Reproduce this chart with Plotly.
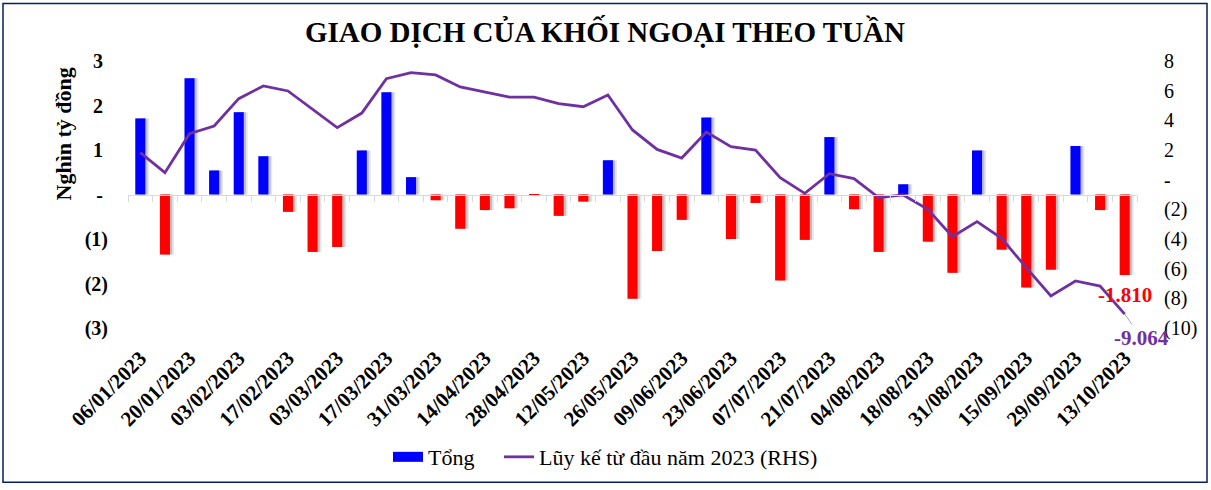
import plotly.graph_objects as go

# ---------------- data ----------------
dates = [
    "06/01/2023", "13/01/2023", "20/01/2023", "27/01/2023", "03/02/2023", "10/02/2023",
    "17/02/2023", "24/02/2023", "03/03/2023", "10/03/2023", "17/03/2023", "24/03/2023",
    "31/03/2023", "07/04/2023", "14/04/2023", "21/04/2023", "28/04/2023", "05/05/2023",
    "12/05/2023", "19/05/2023", "26/05/2023", "02/06/2023", "09/06/2023", "16/06/2023",
    "23/06/2023", "30/06/2023", "07/07/2023", "14/07/2023", "21/07/2023", "28/07/2023",
    "04/08/2023", "11/08/2023", "18/08/2023", "25/08/2023", "31/08/2023", "08/09/2023",
    "15/09/2023", "22/09/2023", "29/09/2023", "06/10/2023", "13/10/2023",
]

weekly = [
    1.71, -1.35, 2.61, 0.54, 1.85, 0.86, -0.39, -1.29, -1.18, 0.99, 2.30, 0.39,
    -0.13, -0.77, -0.35, -0.31, -0.02, -0.48, -0.16, 0.77, -2.34, -1.27, -0.57, 1.73,
    -1.00, -0.19, -1.93, -1.02, 1.29, -0.33, -1.29, 0.23, -1.06, -1.76, 0.99, -1.24,
    -2.09, -1.69, 1.09, -0.35, -1.81,
]

cumulative = [
    1.82, 0.47, 3.10, 3.62, 5.46, 6.32, 5.98, 4.74, 3.51, 4.49, 6.81, 7.22,
    7.06, 6.25, 5.91, 5.57, 5.57, 5.12, 4.92, 5.71, 3.35, 2.04, 1.46, 3.21,
    2.22, 2.00, 0.13, -0.92, 0.40, 0.07, -1.21, -1.03, -2.00, -3.84, -2.83, -3.96,
    -5.93, -7.84, -6.83, -7.17, -9.064,
]

left_vals = [-3, -2, -1, 0, 1, 2, 3]
left_text = ["(3)", "(2)", "(1)", "-\u00a0", "1\u00a0", "2\u00a0", "3\u00a0"]
right_vals = [-10, -8, -6, -4, -2, 0, 2, 4, 6, 8]
right_text = ["(10)", "(8)", "(6)", "(4)", "(2)", "-", "2", "4", "6", "8"]

title_text = "GIAO DỊCH CỦA KHỐI NGOẠI THEO TUẦN"
yaxis_title = "Nghìn tỷ đồng"
bar_name = "Tổng"
line_name = "Lũy kế từ đầu năm 2023 (RHS)"

# ---------------- style ----------------
FONT = "Liberation Serif, Times New Roman, serif"
BLUE = "#0000FF"
RED = "#FF0000"
PURPLE = "#7030A0"
AXIS_GRAY = "#D9D9D9"
BORDER = "#002060"
BAR_W = 0.41

W, H = 1211, 490
ML, MR, MT, MB = 128, 74, 61, 160
PW = W - ML - MR
PH = H - MT - MB


def px_x(px):
    return (px - ML) / PW


def px_y(py):
    return (H - MB - py) / PH


bar_colors = [BLUE if v >= 0 else RED for v in weekly]
n = len(dates)
tick_dates = dates[::2]
boundaries = [i - 0.5 for i in range(n + 1)]

fig = go.Figure()

# soft drop shadow behind bars
for off, alpha in [(0.16, 0.10), (0.09, 0.16)]:
    fig.add_trace(go.Bar(
        x=dates, y=weekly, width=BAR_W, offset=-BAR_W / 2 + off,
        marker=dict(color=f"rgba(0,0,0,{alpha})", line=dict(width=0)),
        showlegend=False, hoverinfo="skip",
    ))

fig.add_trace(go.Bar(
    x=dates, y=weekly, width=BAR_W, offset=-BAR_W / 2,
    marker=dict(color=bar_colors, line=dict(width=0)),
    name=bar_name, showlegend=False,
))

# legend entry for the bars (wide rectangle swatch like the reference)
fig.add_trace(go.Scatter(
    x=[None], y=[None], mode="lines", line=dict(color=BLUE, width=10),
    name=bar_name, hoverinfo="skip", legend="legend",
))

fig.add_trace(go.Scatter(
    x=dates, y=cumulative, yaxis="y2", mode="lines",
    line=dict(color=PURPLE, width=2.8),
    name=line_name, legend="legend2",
))

# helper (invisible) trace so the zero-axis with tick marks is rendered
fig.add_trace(go.Scatter(
    x=[boundaries[0]], y=[0], xaxis="x2", yaxis="y", mode="markers",
    marker=dict(opacity=0), showlegend=False, hoverinfo="skip",
))

legend_common = dict(
    orientation="h", xanchor="left", yanchor="middle", y=px_y(460),
    font=dict(family=FONT, size=22, color="black"),
    bgcolor="rgba(0,0,0,0)",
)

fig.update_layout(
    width=W, height=H,
    margin=dict(l=ML, r=MR, t=MT, b=MB),
    paper_bgcolor="white", plot_bgcolor="white",
    barmode="overlay",
    font=dict(family=FONT, color="black"),
    title=dict(
        text=title_text, x=605 / W, xanchor="center", y=1 - 32 / H, yanchor="middle",
        font=dict(family=FONT, size=29, color="black", weight="bold"),
    ),
    xaxis=dict(
        type="category", range=[-0.5, n - 0.5],
        tickmode="array", tickvals=tick_dates, ticktext=tick_dates,
        tickangle=-45, ticks="", showgrid=False, zeroline=False, showline=False,
        tickfont=dict(family=FONT, size=21, color="black", weight="bold"),
        ticklabelstandoff=13,
    ),
    xaxis2=dict(
        overlaying="x", anchor="free", position=0.5, side="bottom",
        range=[-0.5, n - 0.5], tickmode="array", tickvals=boundaries,
        ticks="outside", ticklen=6, tickcolor=AXIS_GRAY, tickwidth=1,
        showline=True, linecolor=AXIS_GRAY, linewidth=1,
        showticklabels=False, showgrid=False, zeroline=False,
    ),
    yaxis=dict(
        range=[-3, 3], tickmode="array", tickvals=left_vals, ticktext=left_text,
        showgrid=False, zeroline=False, showline=False, ticks="",
        tickfont=dict(family=FONT, size=20, color="black", weight="bold"),
        ticklabelstandoff=19,
    ),
    yaxis2=dict(
        overlaying="y", side="right", range=[-10, 8],
        tickmode="array", tickvals=right_vals, ticktext=right_text,
        showgrid=False, zeroline=False, showline=False, ticks="",
        tickfont=dict(family=FONT, size=20, color="black"),
        ticklabelstandoff=26,
    ),
    legend=dict(x=px_x(388), **legend_common),
    legend2=dict(x=px_x(499), **legend_common),
    showlegend=True,
)

# axis title (rotated)
fig.add_annotation(
    text=yaxis_title, xref="paper", yref="paper",
    x=px_x(63), y=px_y(135), textangle=-90,
    showarrow=False, xanchor="center", yanchor="middle",
    font=dict(family=FONT, size=22, color="black", weight="bold"),
)

# end-value labels
fig.add_annotation(
    x=dates[-1], y=weekly[-1], xref="x", yref="y",
    text=f"{weekly[-1]:.3f}", showarrow=False, yshift=-20,
    xanchor="center", yanchor="middle",
    font=dict(family=FONT, size=21, color=RED, weight="bold"),
)
fig.add_annotation(
    x=dates[-1], y=cumulative[-1], xref="x", yref="y2",
    text=f"{cumulative[-1]:.3f}", showarrow=True, arrowhead=0,
    arrowwidth=1, arrowcolor="#A6A6A6", ax=17, ay=24,
    font=dict(family=FONT, size=21, color=PURPLE, weight="bold"),
)

# outer border of chart area
fig.add_shape(
    type="rect", xref="paper", yref="paper",
    x0=px_x(3), x1=px_x(1207), y0=px_y(485.5), y1=px_y(3),
    line=dict(color=BORDER, width=1.5), fillcolor="rgba(0,0,0,0)", layer="below",
)

fig.write_html(
    "out.html",
    config={"displayModeBar": False},
    post_script="document.body.style.margin='0px';document.body.style.overflow='hidden';",
)
